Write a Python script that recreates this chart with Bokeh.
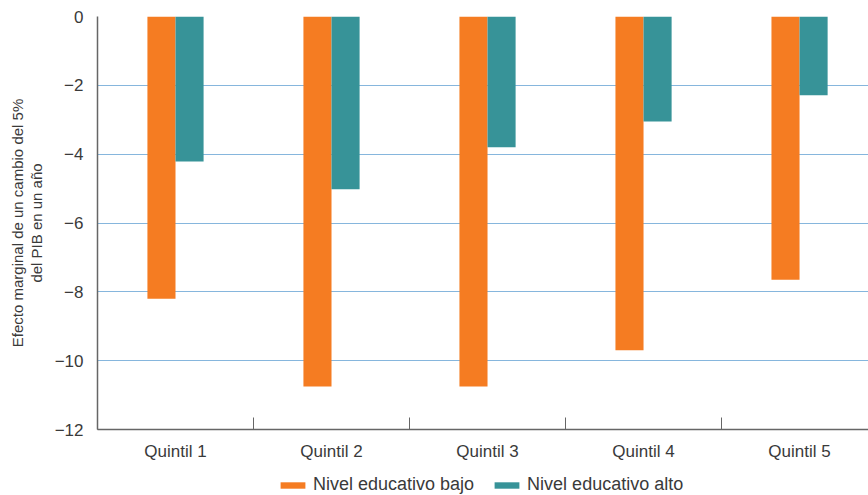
from bokeh.plotting import figure
from bokeh.layouts import column
from bokeh.models import ColumnDataSource, FixedTicker, Legend, LegendItem, Range1d
from bokeh.transform import dodge
from bokeh.embed import file_html
from bokeh.resources import INLINE

# ---- data ----
categories = ["Quintil 1", "Quintil 2", "Quintil 3", "Quintil 4", "Quintil 5"]
bajo = [-8.2, -10.75, -10.75, -9.7, -7.65]
alto = [-4.21, -5.02, -3.8, -3.05, -2.29]
series_names = ["Nivel educativo bajo", "Nivel educativo alto"]
y_ticks = [0, -2, -4, -6, -8, -10, -12]
y_title = "Efecto marginal de un cambio del 5%\ndel PIB en un año"

ORANGE = "#F57C22"
TEAL = "#379398"
GRID = "#86B6DD"
AXIS = "#666666"
TEXT = "#3a3a3a"
FONT = "Liberation Sans"

centers = [i + 0.5 for i in range(len(categories))]
src = ColumnDataSource(dict(x=centers, bajo=bajo, alto=alto))

p = figure(frame_width=771, frame_height=413, output_backend="svg", toolbar_location=None,
           x_range=Range1d(0, 4.942), y_range=Range1d(-12, 0))
p.min_border_left = 97
p.min_border_top = 16
p.min_border_right = 0
p.min_border_bottom = 40
p.outline_line_color = None
p.background_fill_color = "white"
p.border_fill_color = "white"

bw = 0.18
r1 = p.vbar(x=dodge("x", -bw / 2), top=0, bottom="bajo", width=bw, source=src,
            fill_color=ORANGE, line_color=None)
r2 = p.vbar(x=dodge("x", bw / 2), top=0, bottom="alto", width=bw, source=src,
            fill_color=TEAL, line_color=None)

# x axis
xa = p.xaxis[0]
xa.ticker = FixedTicker(ticks=centers, minor_ticks=list(range(len(categories) + 1)))
xa.major_label_overrides = {c: lab for c, lab in zip(centers, categories)}
xa.major_tick_in = 0
xa.major_tick_out = 0
xa.minor_tick_in = 12
xa.minor_tick_out = 0
xa.minor_tick_line_color = AXIS
xa.axis_line_color = AXIS
xa.axis_line_width = 1.5
xa.major_label_text_font = FONT
xa.major_label_text_font_size = "17px"
xa.major_label_text_color = TEXT
xa.major_label_standoff = 12

# y axis
ya = p.yaxis[0]
ya.ticker = FixedTicker(ticks=y_ticks)
ya.major_label_overrides = {t: ("\u2212" + str(abs(t)) if t < 0 else str(t)) for t in y_ticks}
ya.major_tick_in = 0
ya.major_tick_out = 0
ya.minor_tick_in = 0
ya.minor_tick_out = 0
ya.axis_line_color = AXIS
ya.axis_line_width = 1.5
ya.major_label_text_font = FONT
ya.major_label_text_font_size = "17px"
ya.major_label_text_color = TEXT
ya.major_label_standoff = 14
ya.axis_label = y_title
ya.axis_label_text_font = FONT
ya.axis_label_text_font_size = "15px"
ya.axis_label_text_font_style = "normal"
ya.axis_label_text_color = TEXT
ya.axis_label_text_line_height = 1.1
ya.axis_label_standoff = 7

p.xgrid.grid_line_color = None
p.ygrid.grid_line_color = GRID
p.ygrid.grid_line_width = 1.2

# ---- legend strip (bars drawn out of its visible range; only the legend shows) ----
lg = figure(width=868, height=26, output_backend="svg", toolbar_location=None,
            x_range=Range1d(0, 1), y_range=Range1d(0, 1))
lg.min_border_left = 0
lg.min_border_right = 0
lg.min_border_top = 0
lg.min_border_bottom = 0
lg.outline_line_color = None
lg.axis.visible = False
lg.grid.grid_line_color = None
l1 = lg.vbar(x="x", top=0, bottom="bajo", width=bw, source=src, fill_color=ORANGE, line_color=None)
l2 = lg.vbar(x="x", top=0, bottom="alto", width=bw, source=src, fill_color=TEAL, line_color=None)

legend = Legend(items=[LegendItem(label=series_names[0], renderers=[l1]),
                       LegendItem(label=series_names[1], renderers=[l2])],
                orientation="horizontal", location=(180, 0))
legend.border_line_color = None
legend.background_fill_alpha = 0
legend.glyph_width = 31
legend.glyph_height = 8
legend.label_standoff = 5
legend.spacing = 17
legend.padding = 0
legend.margin = 0
legend.label_text_font = FONT
legend.label_text_font_size = "18px"
legend.label_text_color = TEXT
lg.add_layout(legend)

layout = column(p, lg, spacing=0)
open("out.html", "w").write(file_html(layout, INLINE))
